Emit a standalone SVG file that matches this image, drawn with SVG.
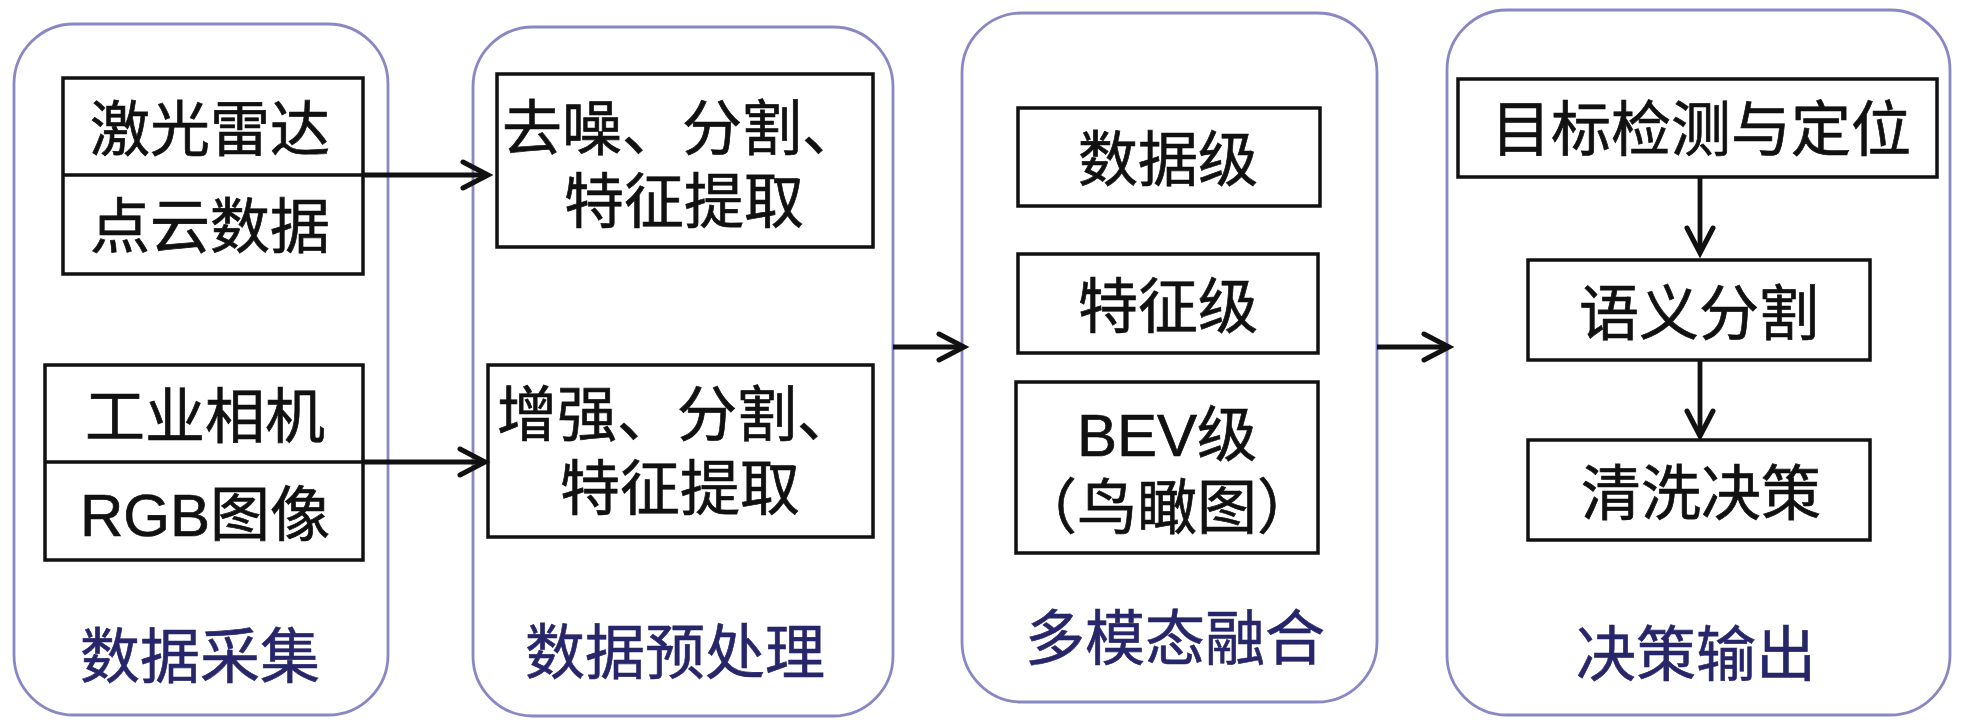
<svg xmlns="http://www.w3.org/2000/svg" width="1969" height="726" viewBox="0 0 1969 726">
<style>
.panel{fill:#fff;stroke:#8a88c4;stroke-width:2.8}
.box{fill:#fff;stroke:#111;stroke-width:3.5}
.line{stroke:#111;stroke-width:3.5;fill:none}
.t{font-family:"Liberation Sans","Noto Sans CJK SC",sans-serif;font-size:60px;fill:#111;stroke:#111;stroke-width:0.7}
.c{text-anchor:middle}
.lbl{font-family:"Noto Sans CJK SC",sans-serif;font-size:60px;fill:#27266a;stroke:#27266a;stroke-width:0.6;text-anchor:middle}
.conn{stroke:#111;stroke-width:4.8;fill:none;marker-end:url(#arr)}
</style>
<defs>
<marker id="arr" markerUnits="userSpaceOnUse" markerWidth="40" markerHeight="40" viewBox="-30 -20 40 40" refX="0" refY="0" orient="auto">
<path d="M-25,-13 L0,0 L-25,13" fill="none" stroke="#111" stroke-width="5" stroke-linecap="round"/>
</marker>
</defs>
<rect width="1969" height="726" fill="#fff"/>

<g id="panel-collect">
<rect class="panel" x="14" y="24" width="374" height="691" rx="60" ry="60"/>
<text class="lbl" x="200" y="678">数据采集</text>
</g>
<g id="panel-preprocess">
<rect class="panel" x="473" y="27" width="420" height="689" rx="60" ry="60"/>
<text class="lbl" x="675" y="674">数据预处理</text>
</g>
<g id="panel-fusion">
<rect class="panel" x="962" y="13" width="415" height="689" rx="60" ry="60"/>
<text class="lbl" x="1175" y="660">多模态融合</text>
</g>
<g id="panel-output">
<rect class="panel" x="1447" y="10" width="503" height="705" rx="60" ry="60"/>
<text class="lbl" x="1696" y="676">决策输出</text>
</g>

<g id="node-lidar">
<rect class="box" x="63" y="78" width="300" height="196"/>
<line class="line" x1="63" y1="175" x2="363" y2="175"/>
<text class="t c" x="210" y="151">激光雷达</text>
<text class="t c" x="210" y="248">点云数据</text>
</g>
<g id="node-camera">
<rect class="box" x="45" y="365" width="318" height="195"/>
<line class="line" x1="45" y1="462" x2="363" y2="462"/>
<text class="t c" x="205" y="438">工业相机</text>
<text class="t c" x="205" y="536">RGB图像</text>
</g>

<g id="node-pre1">
<rect class="box" x="497" y="74" width="376" height="173"/>
<text class="t" x="502" y="150">去噪、分割、</text>
<text class="t c" x="684" y="223">特征提取</text>
</g>
<g id="node-pre2">
<rect class="box" x="488" y="365" width="385" height="172"/>
<text class="t" x="497" y="436">增强、分割、</text>
<text class="t c" x="680" y="510">特征提取</text>
</g>

<g id="node-data-level">
<rect class="box" x="1018" y="108" width="302" height="98"/>
<text class="t c" x="1168" y="181">数据级</text>
</g>
<g id="node-feature-level">
<rect class="box" x="1018" y="254" width="300" height="99"/>
<text class="t c" x="1168" y="328">特征级</text>
</g>
<g id="node-bev-level">
<rect class="box" x="1016" y="382" width="302" height="171"/>
<text class="t c" x="1167" y="456">BEV级</text>
<text class="t c" x="1167" y="529">（鸟瞰图）</text>
</g>

<g id="node-detect">
<rect class="box" x="1458" y="79" width="479" height="98"/>
<text class="t c" x="1701" y="151">目标检测与定位</text>
</g>
<g id="node-seg">
<rect class="box" x="1528" y="260" width="342" height="100"/>
<text class="t c" x="1699" y="335">语义分割</text>
</g>
<g id="node-decision">
<rect class="box" x="1528" y="440" width="342" height="100"/>
<text class="t c" x="1701" y="515">清洗决策</text>
</g>

<g id="connectors">
<path class="conn" d="M363,175 H488"/>
<path class="conn" d="M363,462 H485"/>
<path class="conn" d="M893,347 H964"/>
<path class="conn" d="M1377,347 H1449"/>
<path class="conn" d="M1700,177 V253"/>
<path class="conn" d="M1700,360 V436"/>
</g>
</svg>
